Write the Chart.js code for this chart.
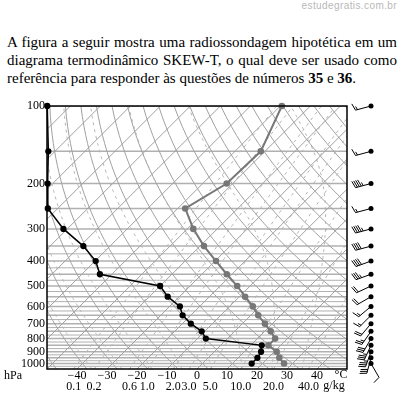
<!DOCTYPE html>
<html>
<head>
<meta charset="utf-8">
<script src="https://cdn.jsdelivr.net/npm/chart.js@4"></script>
<style>
html, body { margin: 0; padding: 0; background: #fff; }
body { width: 401px; height: 399px; position: relative; overflow: hidden; }
#marca { position: absolute; right: 4px; top: 0px; font: 10px "Liberation Sans", sans-serif; color: #b8b8b8; letter-spacing: 0.4px; }
#texto { position: absolute; left: 7px; top: 33px; width: 390px; font: 15px "Liberation Serif", serif; line-height: 18px; color: #000; }
#texto .j { text-align: justify; text-align-last: justify; }
canvas { position: absolute; left: 0; top: 0; }
</style>
</head>
<body>
<div id="marca">estudegratis.com.br</div>
<div id="texto">
  <div class="j">A figura a seguir mostra uma radiossondagem hipotética em um</div>
  <div class="j">diagrama termodinâmico SKEW-T, o qual deve ser usado como</div>
  <div>referência para responder às questões de números <b>35</b> e <b>36</b>.</div>
</div>
<canvas id="skewt" width="401" height="399"></canvas>
<script>
// niveis da sondagem (hPa)
const niveis = [100, 150, 200, 250, 300, 350, 400, 450, 500, 550, 600, 650, 700, 750, 800, 850, 900, 950, 1000];
// temperatura (°C)
const temperatura = [-59.5, -51.4, -52.0, -57.5, -48.0, -38.7, -29.7, -21.7, -14.3, -8.1, -2.3, 2.5, 7.5, 12.0, 15.9, 15.9, 20.8, 23.7, 27.2];
// temperatura do ponto de orvalho (°C)
const orvalho = [-137.7, -122.2, -111.7, -103.3, -91.3, -78.9, -69.8, -64.0, -40.0, -33.9, -26.6, -22.7, -17.2, -11.0, -7.2, 13.7, 15.6, 16.4, 16.4];
// vento: direcao (graus) e velocidade (nos)
const ventoDir = [255, 255, 255, 255, 255, 255, 250, 250, 245, 240, 230, 225, 220, 215, 210, 205, 200, 195, 150];
const ventoVel = [15, 15, 45, 15, 45, 40, 40, 35, 20, 20, 15, 15, 20, 25, 30, 35, 35, 30, 10];

const rotulosPressao = [100, 200, 300, 400, 500, 600, 700, 800, 900, 1000];
const rotulosTemp = [-40, -30, -20, -10, 0, 10, 20, 30, 40];
const razaoMistura = [0.1, 0.2, 0.6, 1.0, 2.0, 3.0, 5.0, 10.0, 20.0, 40.0];
const isobaras = [100, 150, 200, 250, 300, 350, 375, 400, 425, 450, 475, 500, 525, 550, 575, 600, 625, 650, 675,
  700, 725, 750, 775, 800, 825, 850, 875, 900, 925, 950, 975, 1000, 1025];

const PBASE = 1050;
const SKEW = 112 / 3; // desloca as isotermas a 45 graus

const skewX = (t, p) => t + SKEW * Math.log(PBASE / p);

function tdMistura(w, p) {
  const e = w * p / (622 + w);
  const l = Math.log(e / 6.112);
  return 243.5 * l / (17.67 - l);
}

function adiabataUmida(t0) {
  const pts = [];
  let T = t0 + 273.15;
  for (let p = PBASE; p >= 100; p -= 5) {
    pts.push([T - 273.15, p]);
    const tc = T - 273.15;
    const es = 6.112 * Math.exp(17.67 * tc / (tc + 243.5));
    const rs = 0.622 * es / (p - es);
    const dTdp = (287 * T + 2.5e6 * rs) / (p * (1004 + 2.5e6 * 2.5e6 * rs * 0.622 / (287 * T * T)));
    T -= dTdp * 5;
  }
  return pts;
}

const fonteSerif = { family: '"Liberation Serif", serif', size: 12 };

const gradeSkewT = {
  id: 'gradeSkewT',
  beforeDatasetsDraw(chart) {
    const { ctx, chartArea: a, scales: { x, y } } = chart;
    const px = (t, p) => x.getPixelForValue(skewX(t, p));
    const linha = (pts, cor, larg, tracos) => {
      ctx.beginPath();
      pts.forEach(([t, p], i) => i ? ctx.lineTo(px(t, p), y.getPixelForValue(p)) : ctx.moveTo(px(t, p), y.getPixelForValue(p)));
      ctx.strokeStyle = cor; ctx.lineWidth = larg; ctx.setLineDash(tracos || []);
      ctx.stroke();
    };
    ctx.save();
    ctx.beginPath();
    ctx.rect(a.left, a.top, a.right - a.left, a.bottom - a.top);
    ctx.clip();
    isobaras.forEach(p => {
      const yy = y.getPixelForValue(p);
      ctx.beginPath(); ctx.moveTo(a.left, yy); ctx.lineTo(a.right, yy);
      ctx.strokeStyle = '#b0b0b0'; ctx.lineWidth = p % 50 ? 1 : 1.5; ctx.setLineDash([]); ctx.stroke();
    });
    for (let t = -160; t <= 50; t += 10) linha([[t, PBASE], [t, 100]], '#a0a0a0', 1);
    for (let th = -60; th <= 200; th += 10) {
      const pts = [];
      for (let p = PBASE; p >= 100; p -= 10) pts.push([(th + 273.15) * Math.pow(p / 1000, 0.2857) - 273.15, p]);
      linha(pts, '#a0a0a0', 1);
    }
    for (let t0 = -35; t0 <= 35; t0 += 10) linha(adiabataUmida(t0), '#b4b4b4', 1, [3, 4]);
    razaoMistura.forEach(w => {
      const pts = [];
      for (let p = PBASE; p >= 100; p -= 25) pts.push([tdMistura(w, p), p]);
      linha(pts, '#b4b4b4', 1, [3, 4]);
    });
    ctx.restore();
  },
  afterDatasetsDraw(chart) {
    const { ctx, chartArea: a } = chart;
    ctx.save();
    ctx.strokeStyle = '#000'; ctx.lineWidth = 1.5;
    ctx.strokeRect(a.left, a.top, a.right - a.left, a.bottom - a.top);
    ctx.restore();
  },
  afterDraw(chart) {
    const { ctx, chartArea: a, scales: { y } } = chart;
    ctx.save();
    ctx.font = '12px "Liberation Serif", serif';
    ctx.fillStyle = '#000';
    ctx.textAlign = 'center'; ctx.textBaseline = 'middle';
    ctx.fillText('hPa', 13, 376);
    ctx.fillText('°C', 341, 375);
    ctx.fillText('g/kg', 334, 386);
    // barbelas de vento
    const xv = a.right + 24;
    niveis.forEach((p, i) => {
      const yv = y.getPixelForValue(p);
      const ang = ventoDir[i] * Math.PI / 180;
      const ux = Math.sin(ang), uy = -Math.cos(ang);
      const nx = -uy, ny = ux;
      const L = 16;
      ctx.strokeStyle = '#000'; ctx.lineWidth = 1;
      ctx.beginPath(); ctx.moveTo(xv, yv); ctx.lineTo(xv + ux * L, yv + uy * L); ctx.stroke();
      let v = ventoVel[i], d = L;
      while (v >= 50) {
        ctx.beginPath();
        ctx.moveTo(xv + ux * d, yv + uy * d);
        ctx.lineTo(xv + ux * d + nx * 7, yv + uy * d + ny * 7);
        ctx.lineTo(xv + ux * (d - 3), yv + uy * (d - 3));
        ctx.fillStyle = '#000'; ctx.fill();
        v -= 50; d -= 4;
      }
      while (v >= 10) {
        ctx.beginPath();
        ctx.moveTo(xv + ux * d, yv + uy * d);
        ctx.lineTo(xv + ux * (d + 2) + nx * 7, yv + uy * (d + 2) + ny * 7);
        ctx.stroke();
        v -= 10; d -= 2;
      }
      if (v >= 5) {
        ctx.beginPath();
        ctx.moveTo(xv + ux * d, yv + uy * d);
        ctx.lineTo(xv + ux * (d + 1) + nx * 3.5, yv + uy * (d + 1) + ny * 3.5);
        ctx.stroke();
      }
      ctx.beginPath(); ctx.arc(xv, yv, 2.5, 0, Math.PI * 2); ctx.fillStyle = '#000'; ctx.fill();
    });
    ctx.restore();
  }
};

const serie = valores => niveis.map((p, i) => ({ x: skewX(valores[i], p), y: p }));

new Chart(document.getElementById('skewt'), {
  type: 'scatter',
  data: {
    datasets: [
      { label: 'Temperatura', data: serie(temperatura), showLine: true, borderColor: '#777', backgroundColor: '#777', borderWidth: 2, pointRadius: 2.3, clip: false },
      { label: 'Ponto de orvalho', data: serie(orvalho), showLine: true, borderColor: '#000', backgroundColor: '#000', borderWidth: 1.5, pointRadius: 2.4, clip: false }
    ]
  },
  options: {
    responsive: false,
    animation: false,
    devicePixelRatio: 1,
    layout: { padding: { top: 106, right: 54, left: 0, bottom: 0 } },
    plugins: { legend: { display: false }, tooltip: { enabled: false } },
    scales: {
      x: {
        type: 'linear', min: -50, max: 50, position: 'bottom', weight: 0,
        grid: { display: false, drawTicks: false }, border: { display: false },
        afterBuildTicks: s => { s.ticks = rotulosTemp.map(v => ({ value: v })); },
        afterFit: s => { s.height = 11; },
        ticks: { font: fonteSerif, color: '#000', padding: 0, maxRotation: 0, autoSkip: false,
          callback: v => v < 0 ? '\u2212' + Math.abs(v) : String(v) }
      },
      xMistura: {
        type: 'linear', min: -50, max: 50, position: 'bottom', weight: 1,
        grid: { display: false, drawTicks: false }, border: { display: false },
        afterBuildTicks: s => { s.ticks = razaoMistura.map(w => ({ value: skewX(tdMistura(w, PBASE), PBASE) })); },
        afterFit: s => { s.height = 19; },
        ticks: { font: fonteSerif, color: '#000', padding: 0, maxRotation: 0, autoSkip: false,
          callback: (v, i) => razaoMistura[i].toFixed(1) }
      },
      y: {
        type: 'logarithmic', reverse: true, min: 100, max: 1050,
        grid: { display: false, drawTicks: false }, border: { display: false },
        afterBuildTicks: s => { s.ticks = rotulosPressao.map(v => ({ value: v })); },
        afterFit: s => { s.width = 47; },
        ticks: { font: fonteSerif, color: '#000', padding: 2, autoSkip: false, callback: v => String(v) }
      }
    }
  },
  plugins: [gradeSkewT]
});
</script>
</body>
</html>
